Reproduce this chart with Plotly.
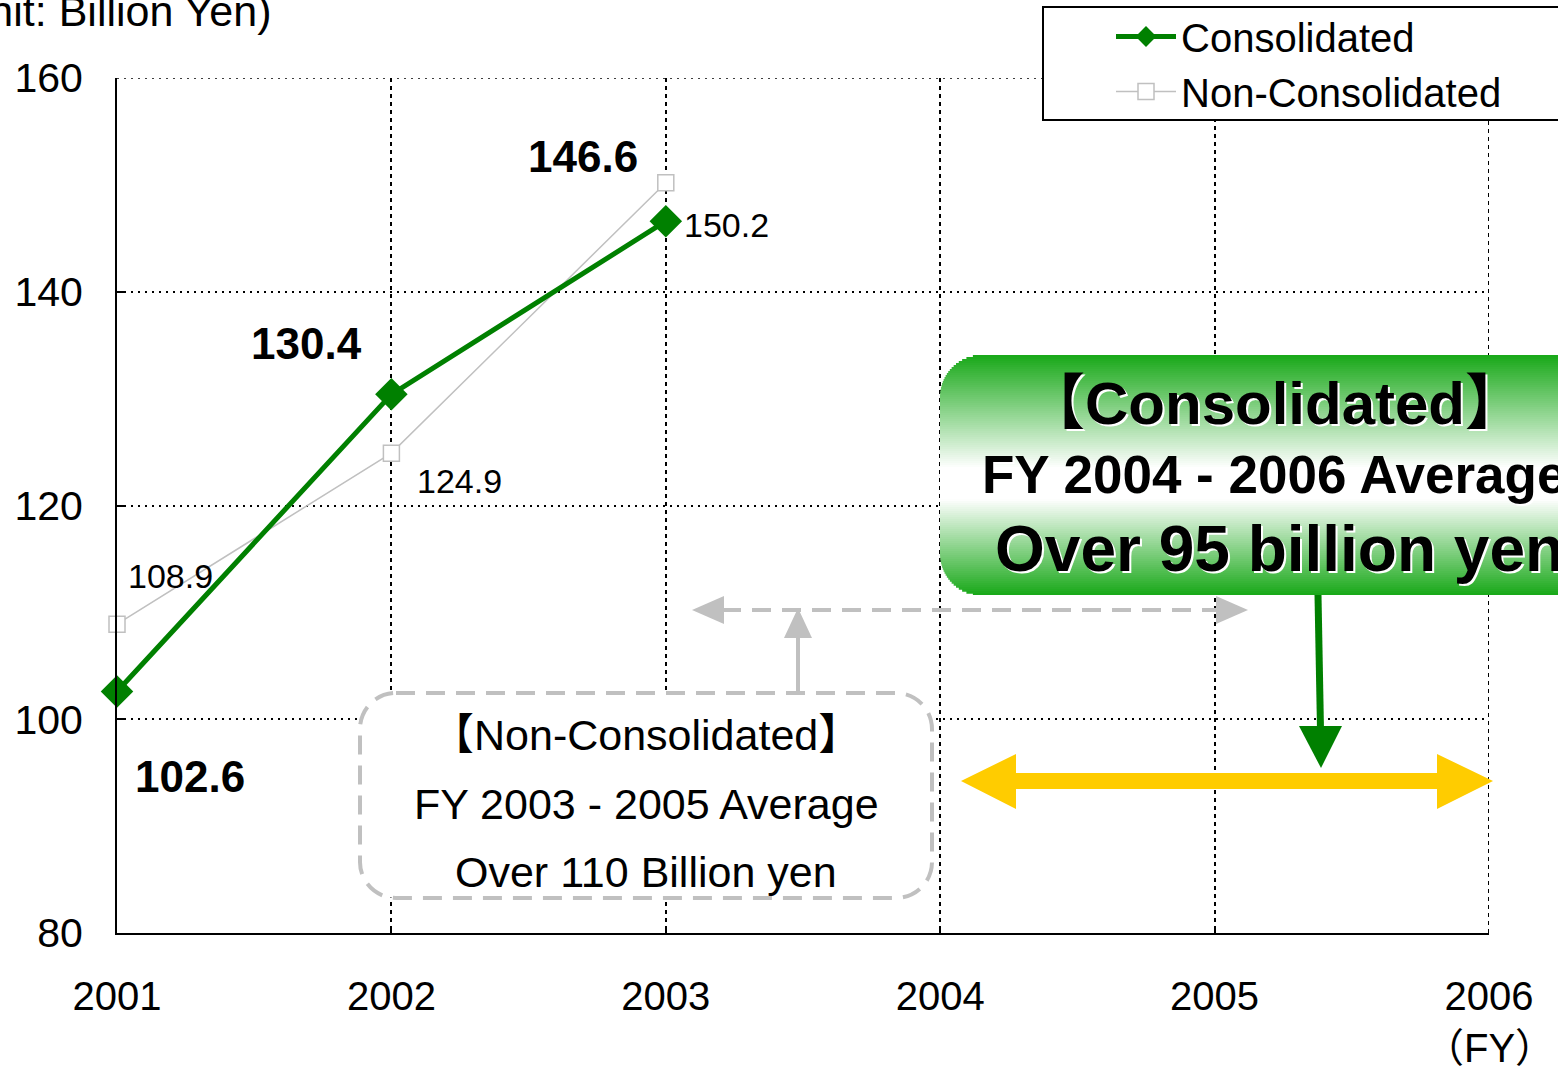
import plotly.graph_objects as go

# ---------------- data ----------------
years = [2001, 2002, 2003]
consolidated = [102.6, 130.4, 146.6]
non_consolidated = [108.9, 124.9, 150.2]
x_ticks = [2001, 2002, 2003, 2004, 2005, 2006]
y_ticks = [80, 100, 120, 140, 160]
series_names = ["Consolidated", "Non-Consolidated"]
unit_label = "(Unit: Billion Yen)"
fy_label = "（FY）"
nc_box_lines = ["【Non-Consolidated】", "FY 2003 - 2005 Average", "Over 110 Billion yen"]
c_box_lines = ["【Consolidated】", "FY 2004 - 2006 Average", "Over 95 billion yen"]

# ---------------- layout geometry (pixels) ----------------
W, H = 1558, 1072
L, R, T, B = 117, 1489, 78, 933

FONT = "Liberation Sans, Arial, Noto Sans CJK JP, sans-serif"
GREEN = "#008000"
GRAY = "#C0C0C0"
YELLOW = "#FFCC00"


def px(x):
    return (x - L) / (R - L)


def py(y):
    return (B - y) / (B - T)


def pt(x, y):
    return f"{px(x):.5f},{py(y):.5f}"


def poly(points):
    return "M" + " L".join(pt(x, y) for x, y in points) + " Z"


def rounded_rect(x0, y0, x1, y1, r):
    k = 0.5523 * r
    return (
        f"M{pt(x0 + r, y0)} L{pt(x1 - r, y0)} "
        f"C{pt(x1 - r + k, y0)} {pt(x1, y0 + r - k)} {pt(x1, y0 + r)} "
        f"L{pt(x1, y1 - r)} "
        f"C{pt(x1, y1 - r + k)} {pt(x1 - r + k, y1)} {pt(x1 - r, y1)} "
        f"L{pt(x0 + r, y1)} "
        f"C{pt(x0 + r - k, y1)} {pt(x0, y1 - r + k)} {pt(x0, y1 - r)} "
        f"L{pt(x0, y0 + r)} "
        f"C{pt(x0, y0 + r - k)} {pt(x0 + r - k, y0)} {pt(x0 + r, y0)} Z"
    )


fig = go.Figure()

fig.add_trace(go.Scatter(
    x=years, y=non_consolidated, name=series_names[1], mode="lines+markers",
    line=dict(color=GRAY, width=1.5),
    marker=dict(symbol="square", size=16, color="white", line=dict(color=GRAY, width=1.5)),
    cliponaxis=False, legendrank=2,
))
fig.add_trace(go.Scatter(
    x=years, y=consolidated, name=series_names[0], mode="lines+markers",
    line=dict(color=GREEN, width=5),
    marker=dict(symbol="diamond", size=25, color=GREEN),
    cliponaxis=False, legendrank=1,
))

annotations = []

# data labels
c_offsets = [(73, -85), (-85, 51), (-83, 65)]
n_offsets = [(53, 48), (68, -28), (61, -42)]
for xv, yv, (dx, dy) in zip(years, consolidated, c_offsets):
    annotations.append(dict(x=xv, y=yv, xref="x", yref="y", text=f"{yv:.1f}", showarrow=False,
                            xshift=dx, yshift=dy,
                            font=dict(family=FONT, size=44, color="black", weight="bold")))
for xv, yv, (dx, dy) in zip(years, non_consolidated, n_offsets):
    annotations.append(dict(x=xv, y=yv, xref="x", yref="y", text=f"{yv:.1f}", showarrow=False,
                            xshift=dx, yshift=dy,
                            font=dict(family=FONT, size=34, color="black")))

# unit label and FY label
annotations.append(dict(x=px(273), y=py(11), xref="paper", yref="paper", text=unit_label,
                        showarrow=False, xanchor="right", yanchor="middle",
                        font=dict(family=FONT, size=43, color="black")))
annotations.append(dict(x=px(1489), y=py(1048), xref="paper", yref="paper", text=fy_label,
                        showarrow=False, xanchor="center", yanchor="middle",
                        font=dict(family=FONT, size=40, color="black")))

# non-consolidated box text
for txt, yc in zip(nc_box_lines, [735, 804, 872]):
    annotations.append(dict(x=px(646), y=py(yc), xref="paper", yref="paper", text=txt,
                            showarrow=False, xanchor="center", yanchor="middle",
                            font=dict(family=FONT, size=43, color="black")))

# consolidated box text
shadow = "2px 2px 0px white"
annotations.append(dict(x=px(1275), y=py(403), xref="paper", yref="paper", text=c_box_lines[0],
                        showarrow=False, xanchor="center", yanchor="middle",
                        font=dict(family=FONT, size=60, color="black", weight="bold", shadow=shadow)))
annotations.append(dict(x=px(980), y=py(475), xref="paper", yref="paper", text=c_box_lines[1],
                        showarrow=False, xanchor="left", yanchor="middle",
                        font=dict(family=FONT, size=53, color="black", weight="bold", shadow=shadow)))
annotations.append(dict(x=px(993), y=py(549), xref="paper", yref="paper", text=c_box_lines[2],
                        showarrow=False, xanchor="left", yanchor="middle",
                        font=dict(family=FONT, size=64, color="black", weight="bold", shadow=shadow)))

shapes = []

# boundary gridlines (top at 160, right at 2006)
shapes.append(dict(type="line", xref="x", yref="y", x0=x_ticks[0], x1=x_ticks[-1], y0=y_ticks[-1], y1=y_ticks[-1],
                   line=dict(color="black", width=1.5, dash="2px,5px"), layer="below"))
shapes.append(dict(type="line", xref="x", yref="y", x0=x_ticks[-1], x1=x_ticks[-1], y0=y_ticks[0], y1=y_ticks[-1],
                   line=dict(color="black", width=2, dash="4px,4px"), layer="below"))

# legend box
shapes.append(dict(type="rect", xref="paper", yref="paper", x0=px(1043), x1=px(1600), y0=py(120), y1=py(7),
                   fillcolor="white", line=dict(color="black", width=2), layer="above"))

# non-consolidated dashed rounded box
shapes.append(dict(type="path", xref="paper", yref="paper", path=rounded_rect(360, 693, 932, 898, 36),
                   fillcolor="white", line=dict(color=GRAY, width=4, dash="19px,11px"), layer="above"))

# gray dashed double arrow
shapes.append(dict(type="line", xref="paper", yref="paper", x0=px(722), x1=px(1218), y0=py(610), y1=py(610),
                   line=dict(color=GRAY, width=4, dash="19px,11px"), layer="above"))
shapes.append(dict(type="path", xref="paper", yref="paper",
                   path=poly([(692, 610), (724, 596), (724, 624)]),
                   fillcolor=GRAY, line=dict(width=0), layer="above"))
shapes.append(dict(type="path", xref="paper", yref="paper",
                   path=poly([(1248, 610), (1216, 596), (1216, 624)]),
                   fillcolor=GRAY, line=dict(width=0), layer="above"))
# gray vertical arrow
shapes.append(dict(type="line", xref="paper", yref="paper", x0=px(798), x1=px(798), y0=py(693), y1=py(634),
                   line=dict(color=GRAY, width=4), layer="above"))
shapes.append(dict(type="path", xref="paper", yref="paper",
                   path=poly([(798, 608), (784, 638), (812, 638)]),
                   fillcolor=GRAY, line=dict(width=0), layer="above"))

# green gradient rounded box (horizontal strips)
gx0, gy0, gy1, gr, gx1 = 940, 355, 595, 42, 1620
gc = (24, 168, 24)


def grad(t):
    if t < 0.47:
        f = t / 0.47
    elif t < 0.60:
        f = 1.0
    else:
        f = (1.0 - t) / 0.40
    f = max(0.0, min(1.0, f))
    r = round(gc[0] + (255 - gc[0]) * f)
    g = round(gc[1] + (255 - gc[1]) * f)
    b = round(gc[2] + (255 - gc[2]) * f)
    return f"rgb({r},{g},{b})"


step = 2
n = (gy1 - gy0) // step
for i in range(n):
    yt = gy0 + i * step
    yb = min(yt + step + 0.8, gy1)
    yc = yt + step / 2
    inset = 0.0
    if yc < gy0 + gr:
        d = gy0 + gr - yc
        inset = gr - (max(gr * gr - d * d, 0)) ** 0.5
    elif yc > gy1 - gr:
        d = yc - (gy1 - gr)
        inset = gr - (max(gr * gr - d * d, 0)) ** 0.5
    shapes.append(dict(type="rect", xref="paper", yref="paper",
                       x0=px(gx0 + inset), x1=px(gx1), y0=py(yb), y1=py(yt),
                       fillcolor=grad((yc - gy0) / (gy1 - gy0)), line=dict(width=0), layer="above"))

# green down arrow
shapes.append(dict(type="line", xref="paper", yref="paper", x0=px(1318), x1=px(1320.5), y0=py(595), y1=py(730),
                   line=dict(color=GREEN, width=7), layer="above"))
shapes.append(dict(type="path", xref="paper", yref="paper",
                   path=poly([(1321, 768), (1299, 726), (1342, 726)]),
                   fillcolor=GREEN, line=dict(width=0), layer="above"))

# yellow double arrow
shapes.append(dict(type="path", xref="paper", yref="paper",
                   path=poly([(961, 781), (1016, 754), (1016, 773), (1437, 773), (1437, 754), (1493, 781),
                              (1437, 809), (1437, 789), (1016, 789), (1016, 809)]),
                   fillcolor=YELLOW, line=dict(width=0), layer="above"))

fig.update_layout(
    width=W, height=H,
    margin=dict(l=L, r=W - R, t=T, b=H - B, pad=0, autoexpand=False),
    paper_bgcolor="white", plot_bgcolor="white",
    font=dict(family=FONT, size=40, color="black"),
    xaxis=dict(range=[2001, 2006], tickvals=x_ticks, ticktext=[str(v) for v in x_ticks],
               showgrid=True, gridcolor="black", gridwidth=2, griddash="4px,4px",
               showline=True, linecolor="black", linewidth=2, zeroline=False, automargin=False,
               ticks="inside", ticklen=6, tickwidth=2, tickcolor="black",
               ticklabelstandoff=27, tickfont=dict(family=FONT, size=40, color="black")),
    yaxis=dict(range=[80, 160], tickvals=y_ticks, ticktext=[str(v) for v in y_ticks],
               showgrid=True, gridcolor="black", gridwidth=1.5, griddash="2px,5px",
               showline=True, linecolor="black", linewidth=2, zeroline=False, automargin=False,
               ticks="inside", ticklen=8, tickwidth=2, tickcolor="black",
               ticklabelstandoff=24, tickfont=dict(family=FONT, size=41, color="black")),
    showlegend=True,
    legend=dict(x=px(1111), y=py(4), xanchor="left", yanchor="top",
                bgcolor="rgba(0,0,0,0)", borderwidth=0, itemwidth=60,
                font=dict(family=FONT, size=40, color="black")),
    annotations=annotations,
    shapes=shapes,
)

fig.write_html("out.html", post_script="document.body.style.margin='0';",
               config={"displayModeBar": False})
